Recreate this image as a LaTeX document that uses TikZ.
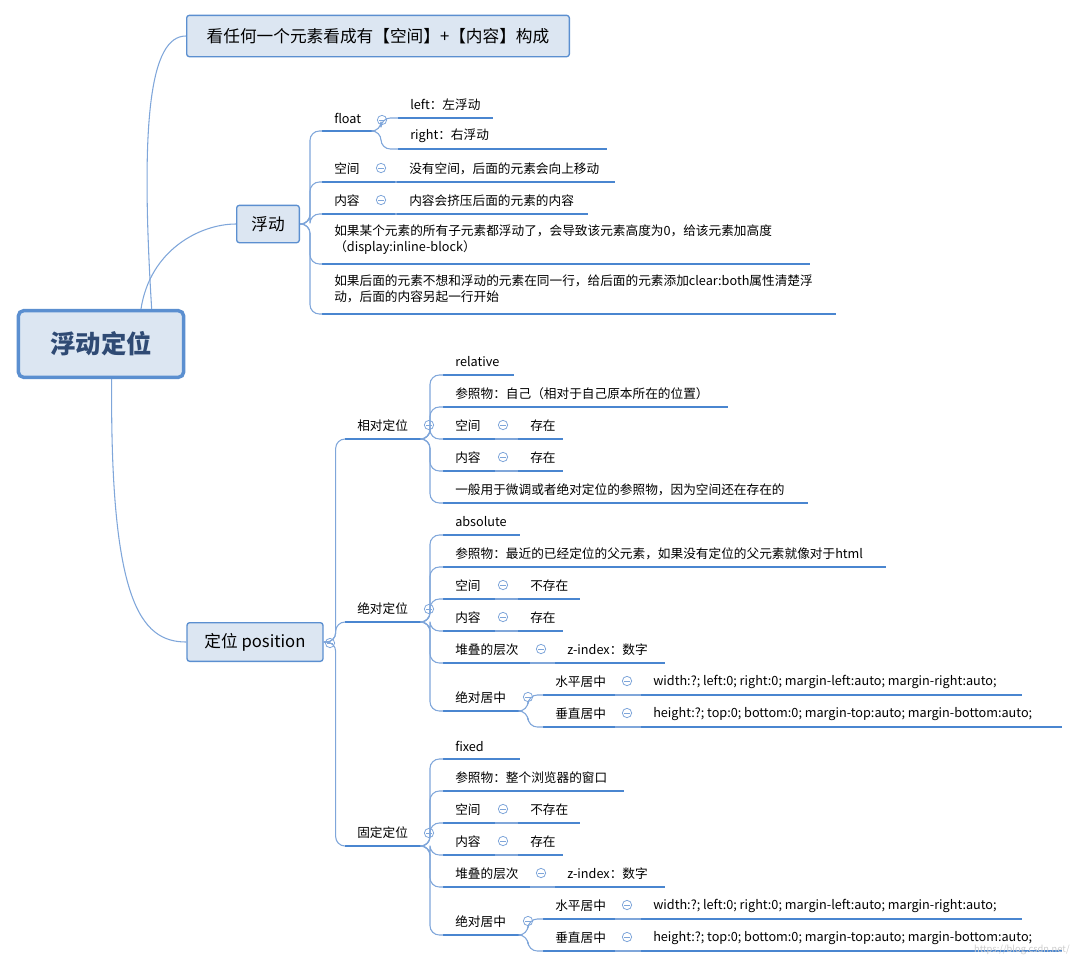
\documentclass[tikz,border=0pt]{standalone}
\usepackage{fontspec}
\setmainfont{Noto Sans CJK SC}
\definecolor{ulc}{HTML}{4A86D0}
\definecolor{brc}{HTML}{7FA6DA}
\definecolor{boxf}{HTML}{DCE6F2}
\definecolor{boxd}{HTML}{5B8FD0}
\definecolor{rtxt}{HTML}{2F4A74}
\tikzset{
 ul/.style={draw=ulc,line width=2pt},
 txt/.style={anchor=west,inner sep=0pt,font=\fontsize{9.5}{12}\selectfont},
 br/.style={draw=brc,line width=0.8pt,rounded corners=7pt},
 cc/.style={circle,draw=brc,line width=0.6pt,minimum size=7pt,inner sep=0pt,path picture={\draw[brc,line width=0.6pt] ([xshift=-2pt]path picture bounding box.center)--([xshift=2pt]path picture bounding box.center);}},
 bx/.style={draw=boxd,fill=boxf,rounded corners=2pt,line width=1pt,font=\fontsize{12.5}{14}\selectfont,inner sep=0pt},
}
\newcommand\lf[5]{\draw[ul] (#2,#4) coordinate (#1s) -- (#3,#4) coordinate (#1e);
 \node[txt] (#1) at (#2+12,#4-13) {#5};}
\newcommand\cir[3]{\node[cc] (#1) at (#2,#3) {};}
\newcommand\cn[2]{\draw[br] (#1) -- ++(8,0) |- (#2);}
\begin{document}
\begin{tikzpicture}[x=0.75pt,y=-0.75pt]
\useasboundingbox (0,0) rectangle (1080,968);
% root & boxes
\node[draw=boxd,fill=boxf,rounded corners=4pt,line width=2.6pt,minimum width=124pt,minimum height=50pt,font=\fontsize{19}{22}\selectfont\bfseries,text=rtxt] (root) at (101,344) {浮动定位};
\node[bx,minimum width=287pt,minimum height=31pt] (b1) at (378,36) {看任何一个元素看成有【空间】+【内容】构成};
\node[bx,minimum width=47pt,minimum height=28pt] (b2) at (268,224) {浮动};
\node[bx,minimum width=102pt,minimum height=29pt] (b3) at (255,642) {定位 position};
\draw[brc,line width=0.8pt] ([xshift=38pt]root.north) .. controls (140,120) and (150,36) .. (b1.west);
\draw[brc,line width=0.8pt] ([xshift=30pt]root.north) .. controls (150,250) and (200,224) .. (b2.west);
\draw[brc,line width=0.8pt] ([xshift=8pt]root.south) .. controls (110,600) and (140,642) .. (b3.west);
% ===== 浮动 =====
\lf{fl}{322}{373}{131}{float} \cir{c1}{382}{120}
\lf{fll}{398}{493}{118}{left：左浮动}
\lf{flr}{398}{607}{149}{right：右浮动}
\lf{fk}{322}{395}{182}{空间} \cir{c2}{381}{168}
\lf{fkc}{397}{615}{182}{没有空间，后面的元素会向上移动}
\lf{fn}{322}{395}{214}{内容} \cir{c3}{381}{200}
\lf{fnc}{397}{588}{214}{内容会挤压后面的元素的内容}
\draw[ul] (322,264) coordinate (t1s) -- (810,264);
\node[txt,anchor=north west,align=left] (t1) at (334,225) {如果某个元素的所有子元素都浮动了，会导致该元素高度为0，给该元素加高度\\（display:inline-block）};
\draw[ul] (322,314) coordinate (t2s) -- (836,314);
\node[txt,anchor=north west,align=left] (t2) at (334,275) {如果后面的元素不想和浮动的元素在同一行，给后面的元素添加clear:both属性清楚浮\\动，后面的内容另起一行开始};
\foreach \t in {fls,fks,fns,t1s,t2s}{\draw[br] (b2.east) -- ++(10,0) |- (\t);}
\cn{fle}{flls} \cn{fle}{flrs}
\draw[brc,line width=0.8pt] (fke)--(fkcs); \draw[brc,line width=0.8pt] (fne)--(fncs);
% ===== 定位 =====
\cir{c4}{330}{643}
\lf{r}{345}{422}{439}{相对定位} \cir{c5}{429}{425}
\lf{a}{345}{422}{622}{绝对定位} \cir{c6}{429}{609}
\lf{f}{345}{422}{846}{固定定位} \cir{c7}{429}{833}
\foreach \t in {rs,as,fs}{\draw[br] (b3.east) -- ++(12,0) |- (\t);}
% relative
\lf{r1}{443}{514}{375}{relative}
\lf{r2}{443}{728}{407}{参照物：自己（相对于自己原本所在的位置）}
\lf{r3}{443}{495}{439}{空间} \cir{c8}{503}{425}
\lf{r3c}{518}{563}{439}{存在}
\lf{r4}{443}{495}{471}{内容} \cir{c9}{503}{457}
\lf{r4c}{518}{563}{471}{存在}
\lf{r5}{443}{808}{503}{一般用于微调或者绝对定位的参照物，因为空间还在存在的}
\foreach \t in {r1s,r2s,r3s,r4s,r5s}{\cn{re}{\t}}
\draw[brc,line width=0.8pt] (r3e)--(r3cs); \draw[brc,line width=0.8pt] (r4e)--(r4cs);
% absolute & fixed
\foreach \p/\o/\kw/\ref/\rend in {a/0/absolute/参照物：最近的已经定位的父元素，如果没有定位的父元素就像对于html/886, f/224/fixed/参照物：整个浏览器的窗口/624}{
 \lf{\p1}{443}{520}{535+\o}{\kw}
 \lf{\p2}{443}{\rend}{567+\o}{\ref}
 \lf{\p3}{443}{495}{599+\o}{空间} \cir{\p c3}{503}{585+\o}
 \lf{\p3c}{518}{580}{599+\o}{不存在}
 \lf{\p4}{443}{495}{631+\o}{内容} \cir{\p c4}{503}{617+\o}
 \lf{\p4c}{518}{563}{631+\o}{存在}
 \lf{\p5}{443}{530}{663+\o}{堆叠的层次} \cir{\p c5}{541}{649+\o}
 \lf{\p5c}{555}{665}{663+\o}{z-index：数字}
 \lf{\p6}{443}{520}{711+\o}{绝对居中} \cir{\p c6}{528}{697+\o}
 \lf{\p7}{543}{615}{695+\o}{水平居中} \cir{\p c7}{627}{681+\o}
 \lf{\p7c}{641}{1022}{695+\o}{width:?; left:0; right:0; margin-left:auto; margin-right:auto;}
 \lf{\p8}{543}{615}{727+\o}{垂直居中} \cir{\p c8}{627}{713+\o}
 \lf{\p8c}{641}{1062}{727+\o}{height:?; top:0; bottom:0; margin-top:auto; margin-bottom:auto;}
 \foreach \t in {1,2,3,4,5,6}{\cn{\p e}{\p\t s}}
 \cn{\p6e}{\p7s} \cn{\p6e}{\p8s}
 \foreach \t in {3,4,5,7,8}{\draw[brc,line width=0.8pt] (\p\t e)--(\p\t cs);}
}
\node[anchor=east,text=gray!40,font=\fontsize{7}{8}\selectfont,inner sep=0pt] (wm) at (1070,950) {https://blog.csdn.net/};
\end{tikzpicture}
\end{document}
